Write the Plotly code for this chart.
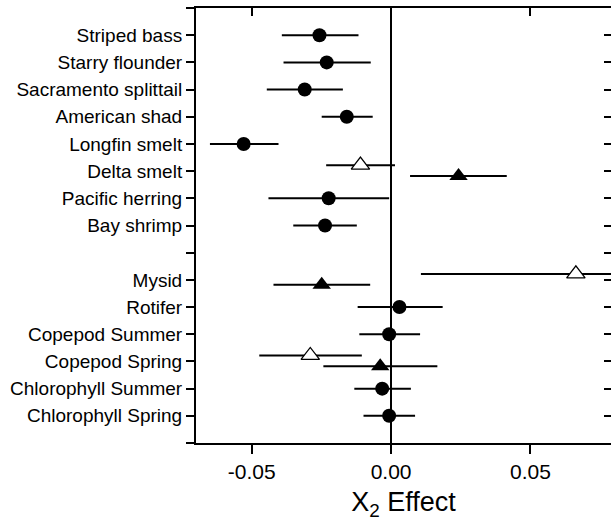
import plotly.graph_objects as go

# Row labels from top (blank row separates fish from lower trophic levels)
rows = ["Striped bass", "Starry flounder", "Sacramento splittail", "American shad",
        "Longfin smelt", "Delta smelt", "Pacific herring", "Bay shrimp", "",
        "Mysid", "Rotifer", "Copepod Summer", "Copepod Spring",
        "Chlorophyll Summer", "Chlorophyll Spring"]

# Filled circles
circ_cat = ["Striped bass", "Starry flounder", "Sacramento splittail", "American shad",
            "Longfin smelt", "Pacific herring", "Bay shrimp", "Rotifer",
            "Copepod Summer", "Chlorophyll Summer", "Chlorophyll Spring"]
circ_val = [-0.0257, -0.0231, -0.0310, -0.0159, -0.0529, -0.0224, -0.0237, 0.0030,
            -0.0007, -0.0032, -0.0007]
circ_lo = [-0.0392, -0.0386, -0.0446, -0.0249, -0.0650, -0.0440, -0.0351, -0.0120,
           -0.0114, -0.0132, -0.0099]
circ_hi = [-0.0117, -0.0073, -0.0173, -0.0066, -0.0404, -0.0007, -0.0123, 0.0185,
           0.0104, 0.0071, 0.0086]

# Filled triangles
ftri_cat = ["Delta smelt", "Mysid", "Copepod Spring"]
ftri_val = [0.0242, -0.0249, -0.0039]
ftri_lo = [0.0068, -0.0422, -0.0243]
ftri_hi = [0.0415, -0.0075, 0.0166]

# Open triangles
otri_cat = ["Delta smelt", "Mysid", "Copepod Spring"]
otri_val = [-0.0110, 0.0663, -0.0290]
otri_lo = [-0.0233, 0.0107, -0.0473]
otri_hi = [0.0014, 0.0880, -0.0105]

xticks = [-0.05, 0.0, 0.05]
xticklabels = ["-0.05", "0.00", "0.05"]

FONT = "Liberation Sans, Arial, sans-serif"
row_pos = {name: i + 1 for i, name in enumerate(rows) if name}
n_pos = len(rows) + 1


def ypos(cats, offset=0.0):
    return [row_pos[c] + offset for c in cats]


def err(val, lo, hi):
    return dict(type="data", symmetric=False,
                array=[h - v for v, h in zip(val, hi)],
                arrayminus=[v - l for v, l in zip(val, lo)],
                color="black", thickness=2, width=0)


fig = go.Figure()
fig.add_trace(go.Scatter(x=circ_val, y=ypos(circ_cat), mode="markers",
                         marker=dict(symbol="circle", size=14, color="black"),
                         error_x=err(circ_val, circ_lo, circ_hi)))
fig.add_trace(go.Scatter(x=ftri_val, y=ypos(ftri_cat, 0.18), mode="markers",
                         marker=dict(symbol="triangle-up", size=16, color="black"),
                         error_x=err(ftri_val, ftri_lo, ftri_hi)))
fig.add_trace(go.Scatter(x=otri_val, y=ypos(otri_cat, -0.22), mode="markers",
                         marker=dict(symbol="triangle-up", size=16, color="white",
                                     line=dict(color="black", width=1.3)),
                         error_x=err(otri_val, otri_lo, otri_hi)))
# invisible carrier so the top/right tick-only axes are drawn
fig.add_trace(go.Scatter(x=circ_val, y=ypos(circ_cat), xaxis="x2", yaxis="y2",
                         mode="markers", marker=dict(opacity=0, size=1),
                         hoverinfo="skip", showlegend=False))

xr = [-0.07, 0.0789]
yticks = list(range(0, n_pos + 1))
ytext = [" "] + [r if r else " " for r in rows] + [" "]

fig.update_layout(
    width=611, height=525,
    margin=dict(l=196, r=0, t=8, b=82),
    plot_bgcolor="white", paper_bgcolor="white",
    showlegend=False,
    font=dict(family=FONT, color="black"),
    xaxis=dict(range=xr, tickvals=xticks, ticktext=xticklabels,
               ticks="outside", ticklen=9, tickwidth=1.5, tickcolor="black",
               showline=True, linecolor="black", linewidth=2, mirror=True,
               showgrid=False, zeroline=True, zerolinecolor="black", zerolinewidth=1.5,
               tickfont=dict(size=21, family=FONT), ticklabelstandoff=0,
               title=dict(text="X<sub>2</sub> Effect", font=dict(size=27, family=FONT),
                          standoff=10)),
    xaxis2=dict(range=xr, overlaying="x", side="top", anchor="y",
                tickvals=xticks, ticks="inside", ticklen=8, tickwidth=1.5,
                tickcolor="black", showticklabels=False, showgrid=False,
                zeroline=False, showline=False),
    yaxis=dict(range=[n_pos, 0], tickvals=yticks, ticktext=ytext,
               ticks="outside", ticklen=8, tickwidth=1.5, tickcolor="black",
               showline=True, linecolor="black", linewidth=2, mirror=False,
               showgrid=False, zeroline=False,
               tickfont=dict(size=19, family=FONT)),
    yaxis2=dict(range=[n_pos, 0], overlaying="y", side="right", anchor="x",
                tickvals=yticks, ticks="inside", ticklen=7, tickwidth=1.5,
                tickcolor="black", showticklabels=False, showgrid=False,
                zeroline=False, showline=False),
)

fig.write_html("out.html", config={"displayModeBar": False},
               post_script="document.body.style.margin='0';")
